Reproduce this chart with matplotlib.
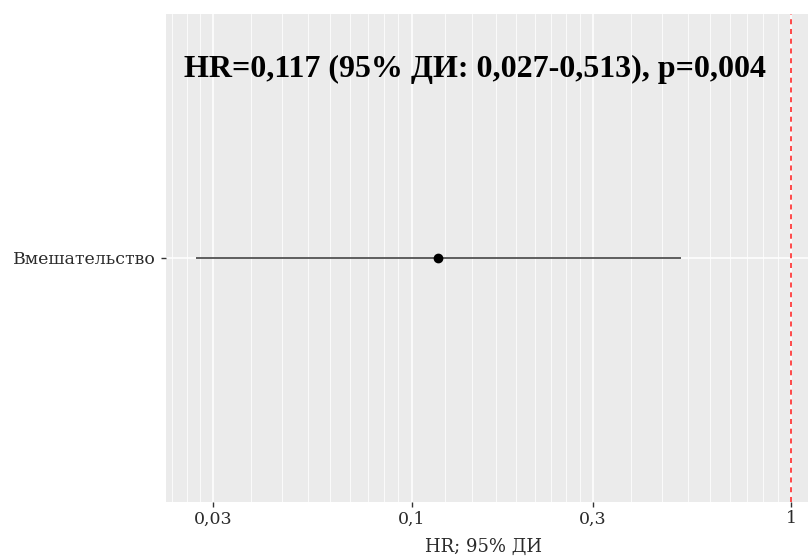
import numpy as np
import matplotlib
matplotlib.use("Agg")
import matplotlib.pyplot as plt

# Данные
groups = ["Вмешательство"]
hr = [0.117]
ci_low = [0.027]
ci_high = [0.513]
ref_line = 1.0
label_text = "HR=0,117 (95% ДИ: 0,027-0,513), p=0,004"

major_breaks = [0.01, 0.03, 0.1, 0.3, 1]
tick_breaks = [0.03, 0.1, 0.3, 1]
tick_labels = ["0,03", "0,1", "0,3", "1"]

plt.rcParams['font.family'] = ['DejaVu Serif']

fig = plt.figure(figsize=(8.08, 5.57), dpi=100)
ax = fig.add_axes([166/808, 1 - 502/557, (821 - 166)/808, (502 - 14)/557])
ax.set_facecolor('#EBEBEB')
for s in ax.spines.values():
    s.set_visible(False)

ax.set_xscale('log')

# сетка: мелкие линии линейно между основными
minor = []
for a, b in zip(major_breaks[:-1], major_breaks[1:]):
    minor.extend(np.linspace(a, b, 10)[1:-1])
for m in minor:
    ax.axvline(m, color='white', lw=0.55, zorder=0)
for m in major_breaks:
    ax.axvline(m, color='white', lw=1.1, zorder=0)
ypos = np.arange(1, len(groups) + 1)
for y in ypos:
    ax.axhline(y, color='white', lw=1.1, zorder=0)

ax.axvline(ref_line, color='#FF3B3B', lw=1.3, dashes=(2.8, 2.6), zorder=1)

ax.hlines(ypos, ci_low, ci_high, color='#333333', lw=1.1, zorder=2)
ax.plot(hr, ypos, 'o', color='black', ms=6, zorder=3)

ax.set_xticks(tick_breaks)
ax.set_xticklabels(tick_labels)
ax.xaxis.set_minor_locator(matplotlib.ticker.NullLocator())
ax.set_yticks(ypos)
ax.set_yticklabels(groups)
ax.tick_params(axis='both', length=3.5, width=1, color='#333333',
               labelsize=12.5, labelcolor='#2b2b2b', pad=2.5)
ax.tick_params(axis='y', pad=3.5)

lo_log = np.log10(min(ci_low))
hi_log = np.log10(max(max(ci_high), ref_line))
pad = 0.05 * (hi_log - lo_log)
ax.set_xlim(10**(lo_log - pad), 10**(hi_log + pad))
ax.set_ylim(0.4, len(groups) + 0.6)

ax.text(0.1466, 1.464, label_text, ha='center', va='center',
        fontsize=23, fontweight='bold', color='black', zorder=4,
        family='Liberation Serif')

ax.set_xlabel("HR; 95% ДИ", fontsize=13, color='#2b2b2b')
ax.xaxis.set_label_coords((483 - 166)/(821 - 166), -0.073)

fig.savefig("out.png", dpi=100)
